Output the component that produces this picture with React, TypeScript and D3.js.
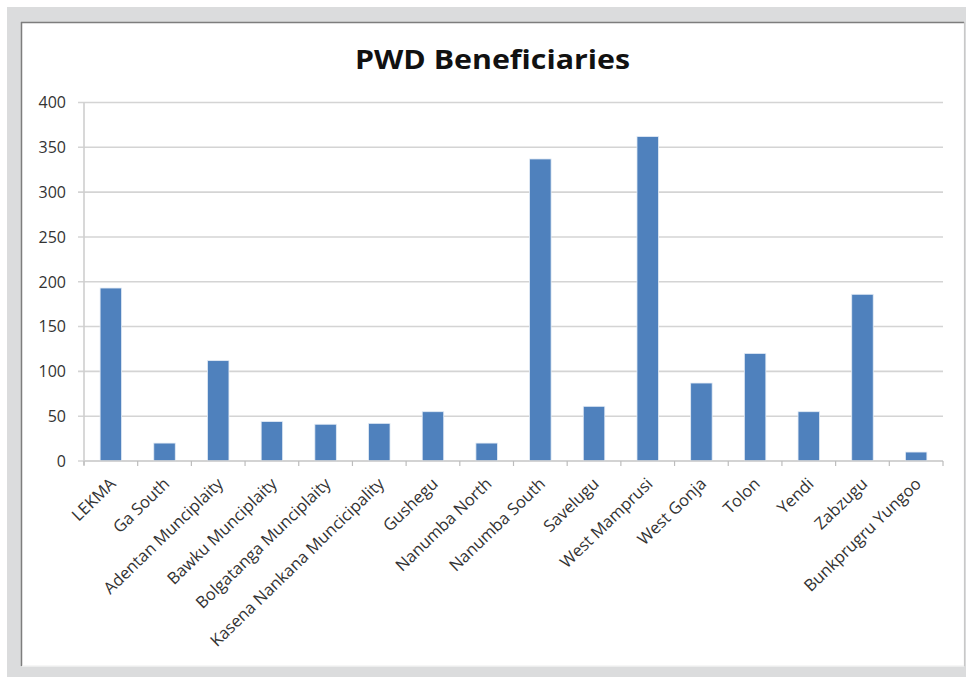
import React from "react";
import * as d3 from "d3";

// Beneficiaries per district
const districts: string[] = [
  "LEKMA",
  "Ga South",
  "Adentan Munciplaity",
  "Bawku Munciplaity",
  "Bolgatanga Munciplaity",
  "Kasena Nankana Muncicipality",
  "Gushegu",
  "Nanumba North",
  "Nanumba South",
  "Savelugu",
  "West Mamprusi",
  "West Gonja",
  "Tolon",
  "Yendi",
  "Zabzugu",
  "Bunkprugru Yungoo",
];
const beneficiaries: number[] = [193, 20, 112, 44, 41, 42, 55, 20, 337, 61, 362, 87, 120, 55, 186, 10];
const yTicks: number[] = [0, 50, 100, 150, 200, 250, 300, 350, 400];
const chartTitle = "PWD Beneficiaries";

const W = 966;
const H = 677;
const plot = { left: 84, right: 943, top: 102.5, bottom: 461 };
const FONT = "'Open Sans', 'DejaVu Sans', sans-serif";

export default function App() {
  const x = d3
    .scaleBand<string>()
    .domain(districts)
    .range([plot.left, plot.right])
    .paddingInner(0.6)
    .paddingOuter(0.3);
  const band = d3.scaleBand<string>().domain(districts).range([plot.left, plot.right]);
  const y = d3.scaleLinear().domain([0, 400]).range([plot.bottom, plot.top]);

  const tickXs = d3.range(districts.length + 1).map((i) => plot.left + i * band.step());

  return (
    <svg
      width={W}
      height={H}
      style={{ position: "absolute", left: 0, top: 0, display: "block" }}
    >
      {/* frame */}
      <rect x={0} y={0} width={W} height={H} fill="#ffffff" />
      <rect x={7} y={7} width={W - 7} height={H - 7} fill="#dbdcdd" />
      <rect x={22} y={22.5} width={942} height={644} fill="#ffffff" />
      <line x1={21.5} y1={22} x2={21.5} y2={666} stroke="#7d7d7d" strokeWidth={1.5} />
      <line x1={21} y1={22.5} x2={964} y2={22.5} stroke="#7d7d7d" strokeWidth={1.5} />
      <line x1={964.5} y1={22} x2={964.5} y2={666} stroke="#c8c8c8" strokeWidth={1.2} />
      <line x1={22} y1={666} x2={964} y2={666} stroke="#ececec" strokeWidth={1} />

      {/* title */}
      <text
        x={492.5}
        y={69}
        textAnchor="middle"
        fontFamily={FONT}
        fontWeight={700}
        fontSize={27}
        fill="#111"
        textLength={275}
        lengthAdjust="spacingAndGlyphs"
      >
        {chartTitle}
      </text>

      {/* gridlines + y ticks */}
      {yTicks.map((t) => (
        <g key={t}>
          <line
            x1={plot.left - 6}
            x2={plot.right}
            y1={y(t)}
            y2={y(t)}
            stroke="#d4d4d4"
            strokeWidth={1.6}
          />
          <text
            x={66}
            y={y(t)}
            dy="0.36em"
            textAnchor="end"
            fontFamily={FONT}
            fontSize={16}
            fill="#333"
          >
            {t}
          </text>
        </g>
      ))}

      {/* y axis line */}
      <line x1={plot.left} x2={plot.left} y1={plot.top} y2={plot.bottom + 4} stroke="#cfcfcf" strokeWidth={1.6} />

      {/* bars */}
      {districts.map((d, i) => (
        <rect
          key={d}
          x={x(d)}
          y={y(beneficiaries[i])}
          width={x.bandwidth()}
          height={plot.bottom - y(beneficiaries[i])}
          fill="#4f81bd"
          stroke="#e3ebf5"
          strokeWidth={0.8}
        />
      ))}

      {/* x axis */}
      <line x1={plot.left} x2={plot.right} y1={plot.bottom} y2={plot.bottom} stroke="#cfcfcf" strokeWidth={1.6} />
      {tickXs.map((tx, i) => (
        <line key={i} x1={tx} x2={tx} y1={plot.bottom} y2={plot.bottom + 5} stroke="#bdbdbd" strokeWidth={1.2} />
      ))}

      {/* category labels */}
      {districts.map((d) => {
        const cx = (band(d) as number) + band.bandwidth() / 2 + 6;
        const cy = plot.bottom + 24;
        return (
          <text
            key={d}
            transform={`translate(${cx},${cy}) rotate(-44)`}
            textAnchor="end"
            fontFamily={FONT}
            fontSize={16.5}
            fill="#333"
          >
            {d}
          </text>
        );
      })}
    </svg>
  );
}
